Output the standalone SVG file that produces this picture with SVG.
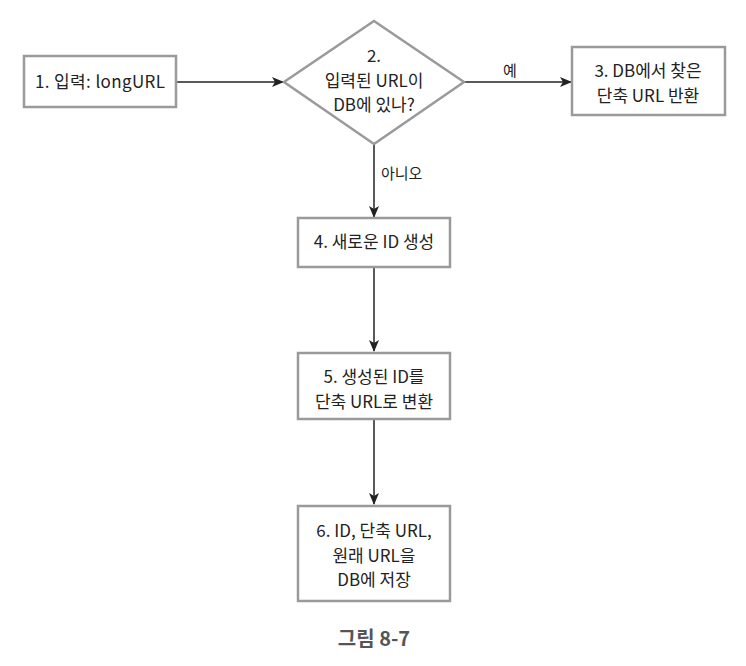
<svg xmlns="http://www.w3.org/2000/svg" width="746" height="666" viewBox="0 0 746 666">
<style>
.box{fill:#fff;stroke:#9a9a9a;stroke-width:2.5}
.t{font-family:"Noto Sans CJK KR","Noto Sans",sans-serif;font-size:17px;fill:#222;text-anchor:middle}
.s{font-family:"Noto Sans CJK KR","Noto Sans",sans-serif;font-size:15px;fill:#222}
.c{stroke:#222;stroke-width:1.5;fill:none;marker-end:url(#ah)}
</style>
<defs>
<marker id="ah" markerWidth="12" markerHeight="10" refX="11" refY="5" orient="auto" markerUnits="userSpaceOnUse">
<path d="M0,0 L12,5 L0,10 L3,5 Z" fill="#222"/>
</marker>
</defs>
<rect width="746" height="666" fill="#fff"/>
<g id="connectors">
<line class="c" x1="176" y1="82" x2="283" y2="82"/>
<line class="c" x1="464" y1="82" x2="571" y2="82"/>
<text class="s" x="503" y="76">예</text>
<line class="c" x1="374" y1="144" x2="374" y2="217"/>
<text class="s" x="381" y="179">아니오</text>
<line class="c" x1="374" y1="268" x2="374" y2="351"/>
<line class="c" x1="374" y1="419" x2="374" y2="504"/>
</g>
<g id="n1">
<rect class="box" x="24" y="56" width="152" height="51"/>
<text class="t" x="100" y="88" textLength="130" lengthAdjust="spacing">1. 입력: longURL</text>
</g>
<g id="n2">
<polygon class="box" points="374,21 464,82 374,144 284,82"/>
<text class="t" x="374" y="62">2.</text>
<text class="t" x="374" y="86.5">입력된 URL이</text>
<text class="t" x="374" y="111">DB에 있나?</text>
</g>
<g id="n3">
<rect class="box" x="572" y="47" width="153" height="68"/>
<text class="t" x="648" y="77">3. DB에서 찾은</text>
<text class="t" x="648" y="101.5">단축 URL 반환</text>
</g>
<g id="n4">
<rect class="box" x="298" y="218" width="152" height="49"/>
<text class="t" x="374" y="248">4. 새로운 ID 생성</text>
</g>
<g id="n5">
<rect class="box" x="298" y="353" width="152" height="66"/>
<text class="t" x="374" y="383">5. 생성된 ID를</text>
<text class="t" x="374" y="407.5">단축 URL로 변환</text>
</g>
<g id="n6">
<rect class="box" x="298" y="506" width="152" height="95"/>
<text class="t" x="374" y="537">6. ID, 단축 URL,</text>
<text class="t" x="374" y="561.5">원래 URL을</text>
<text class="t" x="374" y="586">DB에 저장</text>
</g>
<text x="374" y="646" style="font-family:'Noto Sans CJK KR','Noto Sans',sans-serif;font-size:20px;font-weight:bold;fill:#555;text-anchor:middle">그림 8-7</text>
</svg>
